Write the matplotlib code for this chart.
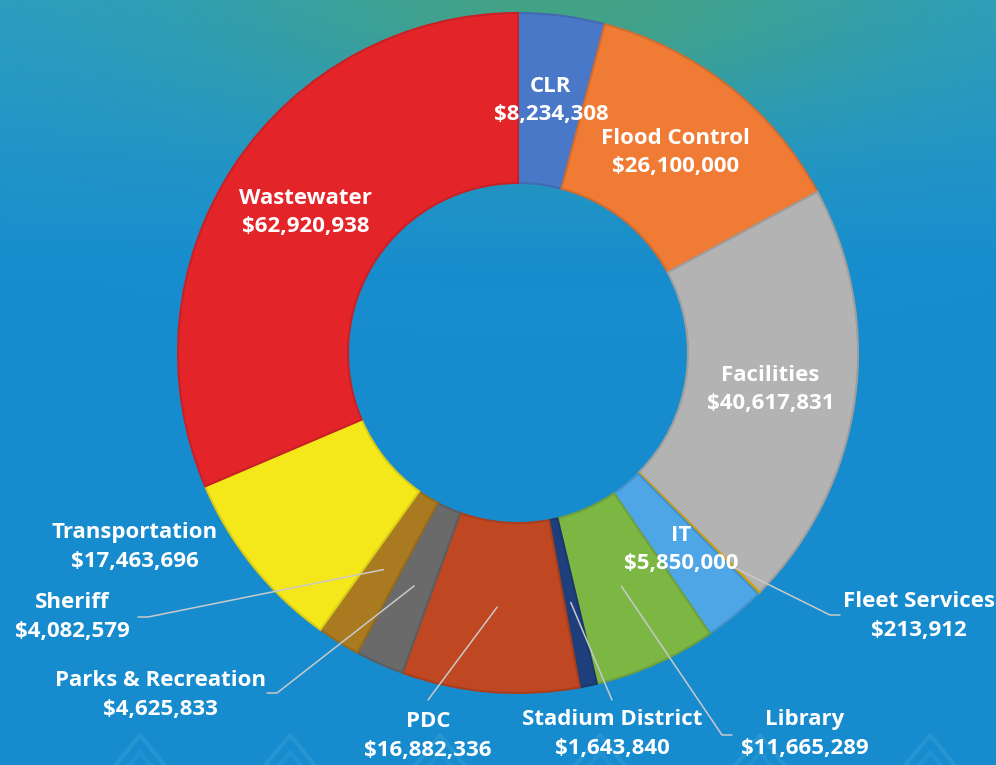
"""
Donut chart of capital budget by department, redrawn from a slide photo.

Saves out.png (996x765).
"""

import matplotlib.pyplot as plt
import numpy as np
from matplotlib.colors import to_rgb

W, H = 996, 765

# clockwise from 12 o'clock
DEPTS = [
    "CLR", "Flood Control", "Facilities", "Fleet Services", "IT", "Library",
    "Stadium District", "PDC", "Parks & Recreation", "Sheriff",
    "Transportation", "Wastewater",
]
AMOUNTS = [
    8234308, 26100000, 40617831, 213912, 5850000, 11665289,
    1643840, 16882336, 4625833, 4082579, 17463696, 62920938,
]
COLORS = [
    "#4a78c9", "#f07b35", "#b3b3b3", "#f2b600", "#4ea6e6", "#7cb743",
    "#1f3f7c", "#bf4721", "#6a6a6a", "#aa7a20", "#f5e81a", "#e3252a",
]

# labels drawn inside the ring (at 0.75 R) vs outside with a leader line
INSIDE = {"CLR", "Flood Control", "Facilities", "IT", "Wastewater"}
# text centre (image px), leader end (image px), short tick length (+right/-left)
OUTSIDE = {
    "Transportation": ((135, 547), None, 0),
    "Sheriff": ((72, 617), (148, 617), -10),
    "Parks & Recreation": ((160, 695), (277, 693), -10),
    "PDC": ((428, 736), (428, 700), 0),
    "Stadium District": ((612, 734), (612, 700), 0),
    "Library": ((805, 734), (722, 735), 10),
    "Fleet Services": ((919, 616), (830, 615), 10),
}
LEADER_R = {"Fleet Services": 0.89}

CENTER = (518, H - 353)
RADIUS = 340


def darker(c, f=0.88):
    r, g, b = to_rgb(c)
    return (r * f, g * f, b * f)


def background():
    yy, xx = np.mgrid[0:H, 0:W].astype(float)
    blue_top = np.array([0.17, 0.62, 0.76])
    blue = np.array([0.09, 0.55, 0.81])
    teal = np.array([0.28, 0.64, 0.48])
    t = np.clip(yy / 280.0, 0, 1)[..., None]
    img = blue_top * (1 - t) + blue * t
    g = (np.exp(-(yy / 130.0) ** 2) * np.exp(-((xx - 560) / 330.0) ** 2))[..., None]
    img = img * (1 - 0.85 * g) + teal * 0.85 * g
    return np.clip(img, 0, 1)


def main() -> None:
    plt.rcParams["font.family"] = ["Open Sans", "DejaVu Sans"]
    fig = plt.figure(figsize=(W / 100, H / 100), dpi=100)
    ax = fig.add_axes([0, 0, 1, 1])
    ax.imshow(background(), extent=(0, W, 0, H), origin="upper", zorder=0)

    # faint chevrons along the bottom edge of the slide
    for cx in (140, 290, 440, 600, 760, 930):
        ax.plot([cx - 45, cx, cx + 45], [H - 790, H - 735, H - 790],
                color="white", alpha=0.07, lw=3, zorder=1)
        ax.plot([cx - 30, cx, cx + 30], [H - 790, H - 752, H - 790],
                color="white", alpha=0.05, lw=3, zorder=1)

    wedges, _ = ax.pie(
        AMOUNTS,
        colors=COLORS,
        startangle=90,
        counterclock=False,
        center=CENTER,
        radius=RADIUS,
        wedgeprops=dict(width=RADIUS * 0.5, linewidth=1.5),
    )
    for w, c in zip(wedges, COLORS):
        w.set_edgecolor(darker(c))
        w.set_zorder(2)

    ax.set_xlim(0, W)
    ax.set_ylim(0, H)
    ax.set_aspect("equal")
    ax.axis("off")

    txt = dict(color="white", fontsize=16, fontweight="bold", ha="center",
               va="center", linespacing=1.45, zorder=5)

    for name, amt, w in zip(DEPTS, AMOUNTS, wedges):
        mid = np.deg2rad((w.theta1 + w.theta2) / 2)
        label = f"{name}\n${amt:,}"
        if name in INSIDE:
            x = CENTER[0] + 0.75 * RADIUS * np.cos(mid)
            y = CENTER[1] + 0.75 * RADIUS * np.sin(mid)
            ax.text(x, y, label, **txt)
            continue
        (tx, ty), end, tick = OUTSIDE[name]
        ax.text(tx, H - ty, label, **txt)
        if end is None:
            continue
        r = LEADER_R.get(name, 0.75) * RADIUS
        sx = CENTER[0] + r * np.cos(mid)
        sy = CENTER[1] + r * np.sin(mid)
        ex, ey = end[0], H - end[1]
        ax.plot([sx, ex, ex + tick], [sy, ey, ey], color="#c9c9c9", lw=1.1,
                zorder=4, solid_capstyle="round")

    fig.savefig("out.png", dpi=100)
    plt.close(fig)


if __name__ == "__main__":
    main()
